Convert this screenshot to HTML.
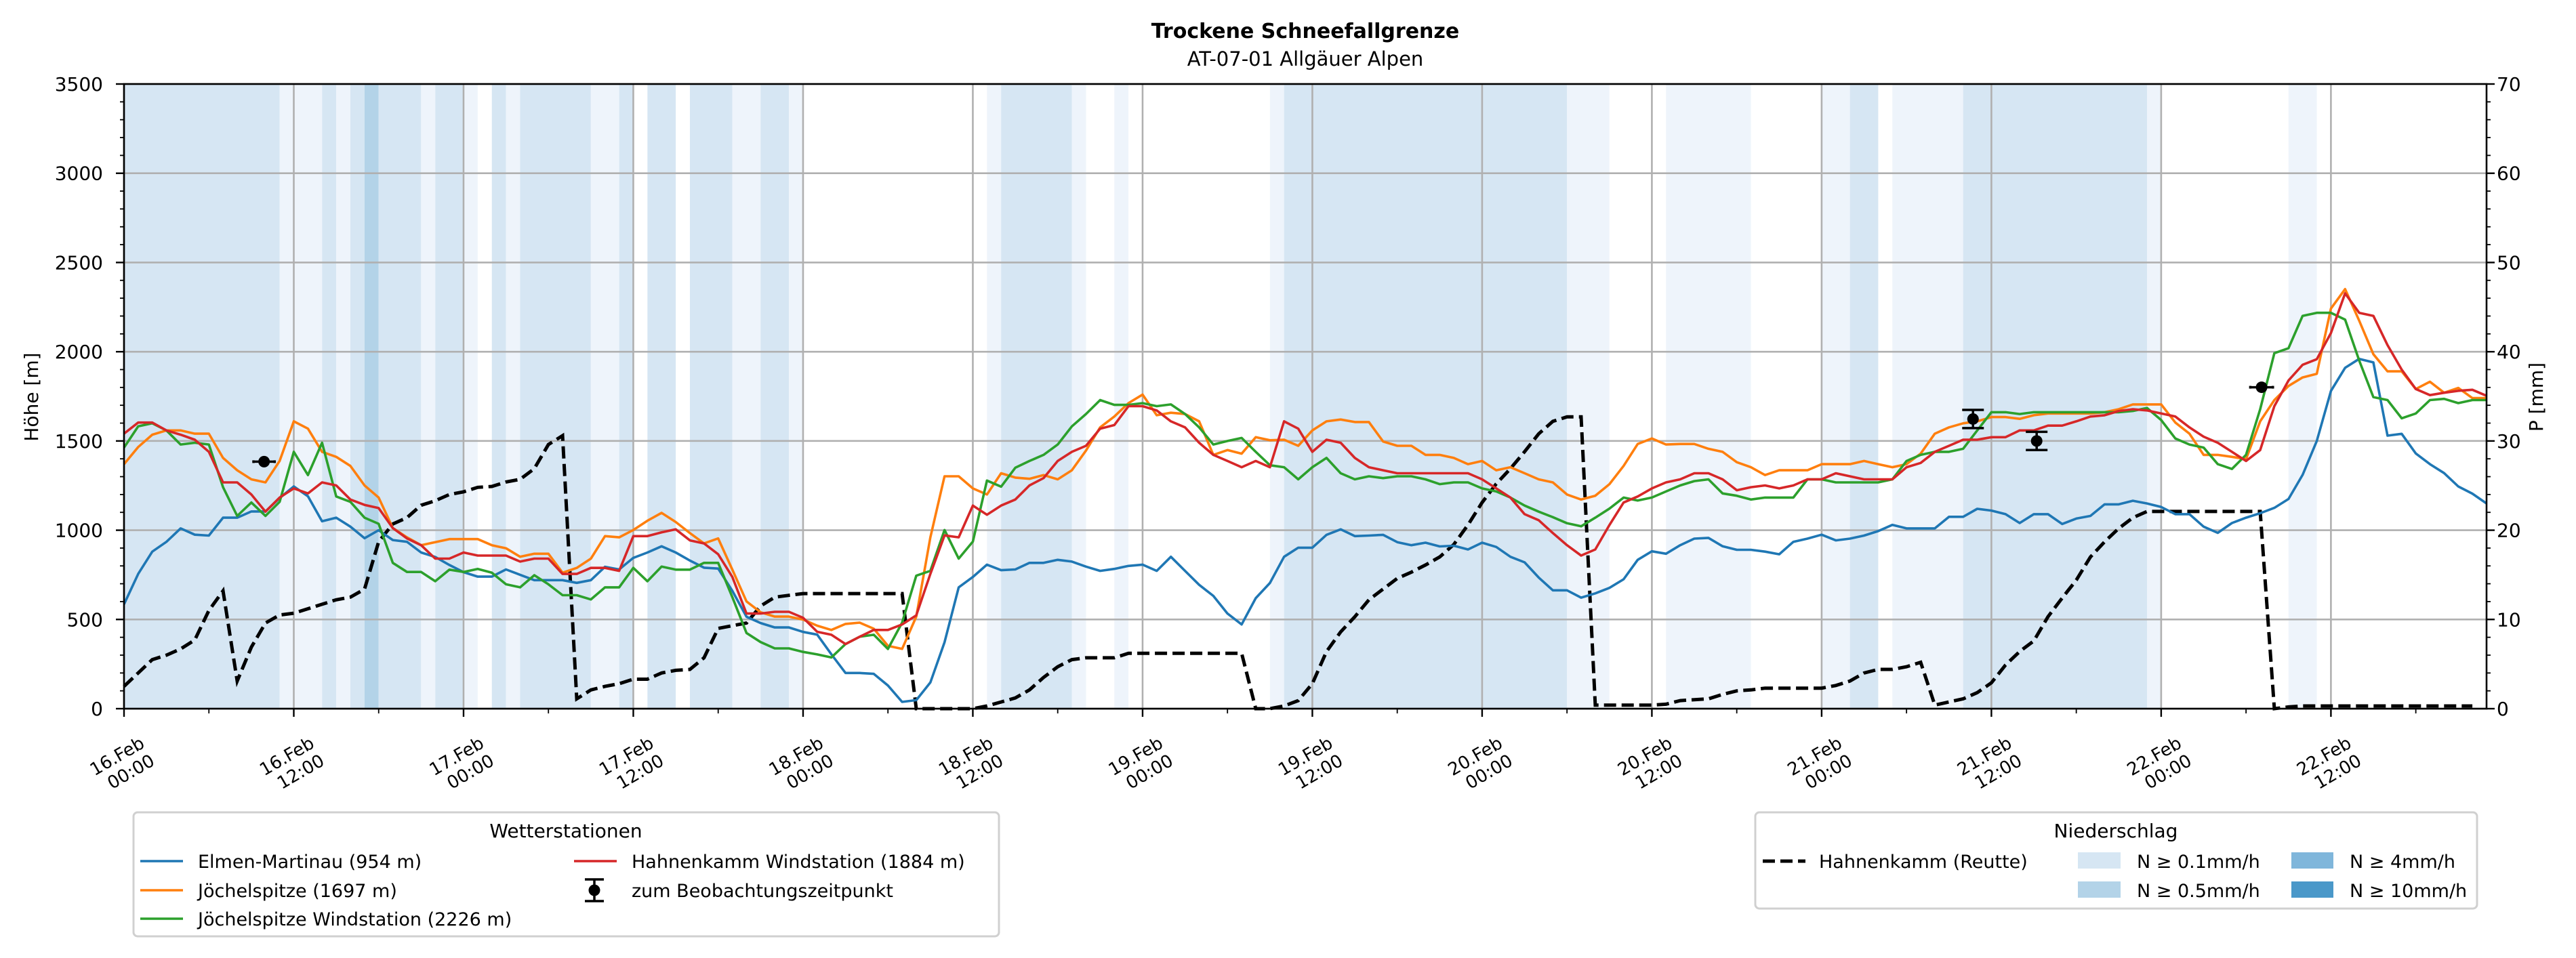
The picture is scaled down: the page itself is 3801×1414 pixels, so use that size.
<!DOCTYPE html>
<html><head><meta charset="utf-8">
<style>
html,body{margin:0;padding:0;background:#fff;}
svg{display:block;font-family:"DejaVu Sans","Liberation Sans",sans-serif;}
</style></head>
<body>
<svg id="chart" xmlns="http://www.w3.org/2000/svg" width="3801" height="1414" viewBox="0 0 3801 1414">
<rect x="0" y="0" width="3801" height="1414" fill="#fff"/>
<text x="1926" y="56" font-size="30" font-weight="bold" text-anchor="middle">Trockene Schneefallgrenze</text>
<text x="1926" y="97" font-size="29" text-anchor="middle">AT-07-01 Allgäuer Alpen</text>
<g id="bands"></g>
<g id="grid"></g>
<g id="series"></g>
<g id="axes"></g>
<text transform="translate(56,586) rotate(-90)" font-size="28" text-anchor="middle">Höhe [m]</text>
<text transform="translate(3752,586) rotate(-90)" font-size="28" text-anchor="middle">P [mm]</text>

<g>
<rect x="197" y="1199" width="1277" height="183" rx="6" fill="#fff" stroke="#d0d0d0" stroke-width="3"/>
<text x="835" y="1236" font-size="28" text-anchor="middle">Wetterstationen</text>
<g><line x1="207" y1="1271" x2="270" y2="1271" stroke="#1f77b4" stroke-width="3.6"/><text x="292" y="1281" font-size="27">Elmen-Martinau (954 m)</text></g>
<g><line x1="207" y1="1314" x2="270" y2="1314" stroke="#ff7f0e" stroke-width="3.6"/><text x="292" y="1324" font-size="27">Jöchelspitze (1697 m)</text></g>
<g><line x1="207" y1="1356" x2="270" y2="1356" stroke="#2ca02c" stroke-width="3.6"/><text x="292" y="1366" font-size="27">Jöchelspitze Windstation (2226 m)</text></g>
<g><line x1="847" y1="1271" x2="910" y2="1271" stroke="#d62728" stroke-width="3.6"/><text x="932" y="1281" font-size="27">Hahnenkamm Windstation (1884 m)</text></g>
<g><line x1="877" y1="1298" x2="877" y2="1330" stroke="#000" stroke-width="3.5"/><line x1="863" y1="1298" x2="891" y2="1298" stroke="#000" stroke-width="3.5"/><line x1="863" y1="1330" x2="891" y2="1330" stroke="#000" stroke-width="3.5"/><circle cx="877" cy="1314" r="8.5" fill="#000"/><text x="932" y="1324" font-size="27">zum Beobachtungszeitpunkt</text></g>
</g>

<g>
<rect x="2590" y="1199" width="1065" height="142" rx="6" fill="#fff" stroke="#d0d0d0" stroke-width="3"/>
<text x="3122" y="1236" font-size="28" text-anchor="middle">Niederschlag</text>
<g><line x1="2601" y1="1271" x2="2664" y2="1271" stroke="#000" stroke-width="5" stroke-dasharray="18,8"/><text x="2684" y="1281" font-size="27">Hahnenkamm (Reutte)</text></g>
<g><rect x="3066" y="1258" width="63" height="24" fill="#d6e6f3"/><text x="3153" y="1281" font-size="27">N ≥ 0.1mm/h</text></g>
<g><rect x="3066" y="1301" width="63" height="24" fill="#b3d3e8"/><text x="3153" y="1324" font-size="27">N ≥ 0.5mm/h</text></g>
<g><rect x="3381" y="1258" width="62" height="24" fill="#7fb6db"/><text x="3467" y="1281" font-size="27">N ≥ 4mm/h</text></g>
<g><rect x="3381" y="1301" width="62" height="24" fill="#4a98c9"/><text x="3467" y="1324" font-size="27">N ≥ 10mm/h</text></g>
</g>
</svg>
<script>
const hours = Array.from({length:168},(_,i)=>i);
const elmen = [585,755,880,935,1010,975,970,1070,1070,1105,1105,1180,1245,1190,1050,1070,1020,955,1000,945,935,875,850,805,765,740,740,780,750,720,720,720,705,720,795,780,845,875,910,875,830,790,785,660,515,480,455,455,430,415,305,200,200,195,130,38,48,147,372,680,738,807,776,780,817,817,834,824,796,772,783,800,807,772,851,772,694,632,533,472,619,704,851,902,902,974,1005,967,970,974,933,916,930,909,913,892,930,906,851,820,735,663,663,622,646,677,725,834,882,868,916,953,957,910,890,890,880,865,935,953,975,943,953,970,995,1030,1010,1010,1010,1075,1075,1120,1110,1090,1040,1090,1090,1035,1065,1080,1145,1145,1165,1150,1130,1090,1090,1020,985,1040,1070,1095,1125,1175,1310,1500,1780,1910,1960,1940,1530,1540,1430,1370,1320,1245,1205,1150];
const joechel = [1370,1466,1535,1559,1559,1541,1541,1405,1336,1285,1268,1388,1610,1569,1439,1411,1360,1251,1183,1012,960,916,933,950,950,950,916,899,851,868,868,762,789,841,967,960,1001,1053,1097,1046,984,926,954,779,601,540,516,516,499,465,441,475,482,448,352,335,516,960,1302,1302,1234,1200,1319,1295,1288,1309,1285,1336,1446,1576,1637,1712,1760,1644,1658,1651,1610,1422,1449,1429,1521,1504,1507,1473,1559,1610,1620,1606,1606,1497,1473,1473,1422,1422,1405,1370,1388,1336,1353,1319,1285,1268,1200,1172,1193,1258,1360,1483,1514,1480,1483,1483,1456,1439,1381,1353,1309,1336,1336,1336,1370,1370,1370,1388,1370,1353,1370,1429,1541,1576,1599,1610,1634,1634,1624,1644,1654,1654,1654,1654,1661,1678,1705,1705,1705,1603,1541,1422,1422,1411,1398,1610,1729,1808,1856,1876,2242,2351,2174,1986,1890,1890,1791,1832,1770,1797,1740,1740];
const joechelWind = [1463,1582,1599,1559,1480,1490,1480,1241,1080,1155,1080,1159,1439,1309,1490,1189,1159,1070,1036,817,766,766,714,779,766,783,762,697,680,748,697,636,636,612,680,680,789,714,796,779,779,817,817,625,424,373,338,338,318,304,287,362,403,414,335,482,745,772,1001,841,936,1278,1244,1350,1388,1422,1480,1582,1651,1729,1702,1702,1712,1695,1705,1651,1576,1480,1500,1517,1439,1364,1353,1285,1353,1405,1319,1285,1302,1292,1302,1302,1285,1258,1268,1268,1234,1217,1183,1138,1104,1073,1039,1022,1070,1121,1183,1166,1183,1217,1251,1275,1285,1206,1193,1172,1183,1183,1183,1285,1285,1268,1268,1268,1268,1285,1388,1422,1439,1439,1456,1559,1661,1661,1651,1661,1661,1661,1661,1661,1661,1661,1668,1685,1617,1514,1480,1463,1370,1343,1422,1678,1992,2020,2201,2218,2218,2180,1951,1746,1729,1627,1654,1729,1736,1712,1729,1729];
const hahnWind = [1541,1603,1603,1559,1535,1507,1439,1268,1268,1200,1104,1183,1234,1206,1268,1251,1172,1142,1124,1012,954,916,841,841,875,858,858,858,824,841,841,755,755,789,789,772,967,967,988,1005,943,926,865,738,533,533,543,543,509,431,414,362,403,441,441,472,523,755,971,960,1138,1087,1138,1172,1251,1292,1388,1439,1473,1569,1589,1695,1695,1671,1610,1576,1490,1422,1388,1353,1388,1353,1610,1569,1439,1507,1490,1405,1353,1336,1319,1319,1319,1319,1319,1319,1285,1234,1183,1090,1056,984,916,858,892,1029,1155,1189,1234,1268,1285,1319,1319,1285,1224,1241,1251,1234,1251,1285,1285,1319,1302,1285,1285,1285,1353,1377,1439,1473,1507,1507,1521,1521,1559,1559,1586,1586,1610,1637,1644,1668,1678,1671,1654,1637,1576,1524,1490,1439,1388,1449,1695,1839,1927,1958,2105,2327,2218,2201,2037,1900,1791,1757,1770,1781,1787,1753];
const precipReutte = [2.5,4.0,5.5,6.0,6.7,7.7,11.0,13.2,3.1,6.9,9.6,10.5,10.7,11.2,11.7,12.2,12.5,13.4,18.7,20.7,21.4,22.8,23.3,24.0,24.3,24.8,24.9,25.4,25.7,26.9,29.6,30.6,1.1,2.1,2.5,2.8,3.3,3.3,4.0,4.3,4.4,5.7,9.0,9.3,9.6,11.5,12.5,12.7,12.9,12.9,12.9,12.9,12.9,12.9,12.9,12.9,0,0,0,0,0,0.3,0.75,1.2,2.1,3.5,4.7,5.5,5.7,5.7,5.7,6.2,6.2,6.2,6.2,6.2,6.2,6.2,6.2,6.2,0,0,0.3,0.9,2.8,6.4,8.6,10.3,12.2,13.4,14.6,15.3,16.1,17.0,18.4,20.6,23.1,25.2,26.9,28.8,30.8,32.2,32.7,32.7,0.4,0.4,0.4,0.4,0.4,0.5,0.9,1.0,1.1,1.6,2.0,2.1,2.3,2.3,2.3,2.3,2.3,2.6,3.1,4.0,4.4,4.4,4.7,5.2,0.4,0.75,1.1,1.8,2.9,4.9,6.4,7.6,10.3,12.4,14.4,17.0,18.7,20.2,21.4,22.1,22.1,22.1,22.1,22.1,22.1,22.1,22.1,22.1,0,0.2,0.3,0.3,0.3,0.3,0.3,0.3,0.3,0.3,0.3,0.3,0.3,0.3,0.3];
const bandStart = [0,11,14,15,16,17,18,21,22,24,26,27,28,33,35,37,40,43,45,47,61,62,67,70,81,82,102,109,120,122,125,130,143,153];
const bandEnd   = [11,14,15,16,17,18,21,22,24,25,27,28,33,35,36,39,43,45,47,48,62,67,68,71,82,102,105,115,122,124,130,143,144,155];
const bandLevel = [2,1,2,1,2,3,2,1,2,1,2,1,2,1,2,2,2,1,2,1,1,2,1,1,1,2,1,1,1,2,1,2,1,1];
const obsHour = [9.9,130.7,135.2,151.1];
const obsHeight = [1384,1623,1500,1801];
const obsXerr = [0.75,0,0,0.8];
const obsYerr = [0,51,51,0];
const yTicks = [0,500,1000,1500,2000,2500,3000,3500];
const y2Ticks = [0,10,20,30,40,50,60,70];
const xTickHours = [0,12,24,36,48,60,72,84,96,108,120,132,144,156];
const xTickDay = ["16.Feb","16.Feb","17.Feb","17.Feb","18.Feb","18.Feb","19.Feb","19.Feb","20.Feb","20.Feb","21.Feb","21.Feb","22.Feb","22.Feb"];
const xTickTime = ["00:00","12:00","00:00","12:00","00:00","12:00","00:00","12:00","00:00","12:00","00:00","12:00","00:00","12:00"];

const NS="http://www.w3.org/2000/svg";
const L=183,R=3669,T=124,B=1046;
const xS=h=>L+(R-L)*h/167;
const yS=v=>B-(B-T)*v/3500;
const y2S=v=>B-(B-T)*v/70;
function mk(tag,attrs,parent){const e=document.createElementNS(NS,tag);for(const k in attrs)e.setAttribute(k,attrs[k]);parent.appendChild(e);return e;}
const bandColors={1:"#eef4fb",2:"#d6e6f3",3:"#b3d3e8"};
const gB=document.getElementById('bands');
bandStart.forEach((s,i)=>{
  const r=mk('rect',{x:xS(s),y:T,width:xS(bandEnd[i])-xS(s),height:B-T,fill:bandColors[bandLevel[i]]},gB);
  
  
});
const gG=document.getElementById('grid');
xTickHours.forEach(h=>{const l=mk('line',{x1:xS(h),x2:xS(h),y1:T,y2:B,stroke:"#b0b0b0","stroke-width":2.6},gG);

});
yTicks.forEach(v=>{const l=mk('line',{x1:L,x2:R,y1:yS(v),y2:yS(v),stroke:"#b0b0b0","stroke-width":2.6},gG);

});
const gS=document.getElementById('series');
function line(vals,scale,color,name,extra){
  const d=vals.map((v,i)=>(i?'L':'M')+xS(hours[i]).toFixed(1)+','+scale(v).toFixed(1)).join('');
  const p=mk('path',Object.assign({d:d,fill:"none",stroke:color,"stroke-width":3.6,"stroke-linejoin":"round"},extra||{}),gS);
  
  
}
line(precipReutte,y2S,"#000","precip-hahnenkamm-reutte-line",{"stroke-width":5,"stroke-dasharray":"18,8","stroke-linejoin":"miter"});
line(elmen,yS,"#1f77b4","elmen-martinau-line");
line(joechel,yS,"#ff7f0e","joechelspitze-line");
line(joechelWind,yS,"#2ca02c","joechelspitze-windstation-line");
line(hahnWind,yS,"#d62728","hahnenkamm-windstation-line");
obsHour.forEach((h,i)=>{
  const g=mk('g',{},gS);
  
  
  const cx=xS(h),cy=yS(obsHeight[i]);
  if(obsXerr[i]>0){const x1=xS(h-obsXerr[i]),x2=xS(h+obsXerr[i]);
    mk('line',{x1:x1,x2:x2,y1:cy,y2:cy,stroke:"#000","stroke-width":3.5},g);
    mk('line',{x1:x1,x2:x1,y1:cy-2,y2:cy+2,stroke:"#000","stroke-width":3.5},g);
    mk('line',{x1:x2,x2:x2,y1:cy-2,y2:cy+2,stroke:"#000","stroke-width":3.5},g);}
  if(obsYerr[i]>0){const y1=yS(obsHeight[i]+obsYerr[i]),y2=yS(obsHeight[i]-obsYerr[i]);
    mk('line',{x1:cx,x2:cx,y1:y1,y2:y2,stroke:"#000","stroke-width":3.5},g);
    mk('line',{x1:cx-16,x2:cx+16,y1:y1,y2:y1,stroke:"#000","stroke-width":3.5},g);
    mk('line',{x1:cx-16,x2:cx+16,y1:y2,y2:y2,stroke:"#000","stroke-width":3.5},g);}
  mk('circle',{cx:cx,cy:cy,r:8.5,fill:"#000"},g);
});
const gA=document.getElementById('axes');
const fr=mk('rect',{x:L,y:T,width:R-L,height:B-T,fill:"none",stroke:"#000","stroke-width":2.6},gA);


for(let v=0;v<=3500;v+=100){const maj=v%500===0;mk('line',{x1:L,x2:L-(maj?12:6),y1:yS(v),y2:yS(v),stroke:"#000","stroke-width":maj?2.4:1.8},gA);}
for(let v=0;v<=70;v+=2){const maj=v%10===0;mk('line',{x1:R,x2:R+(maj?12:6),y1:y2S(v),y2:y2S(v),stroke:"#000","stroke-width":maj?2.4:1.8},gA);}
for(let h=0;h<=167;h+=6){const maj=h%12===0;mk('line',{x1:xS(h),x2:xS(h),y1:B,y2:B+(maj?12:7),stroke:"#000","stroke-width":maj?2.4:1.8},gA);}
yTicks.forEach(v=>{const t=mk('text',{x:152,y:yS(v)+10,"font-size":28,"text-anchor":"end"},gA);t.textContent=v;

});
y2Ticks.forEach(v=>{const t=mk('text',{x:3684,y:y2S(v)+10,"font-size":28},gA);t.textContent=v;

});
xTickHours.forEach((h,i)=>{
  const t=mk('text',{transform:`translate(${xS(h)+32},1102) rotate(-30)`,"font-size":26,"text-anchor":"end"},gA);
  
  
  const a=mk('tspan',{x:0,y:0},t);a.textContent=xTickDay[i];
  const b=mk('tspan',{x:0,y:30},t);b.textContent=xTickTime[i];
});
</script>
</body></html>
